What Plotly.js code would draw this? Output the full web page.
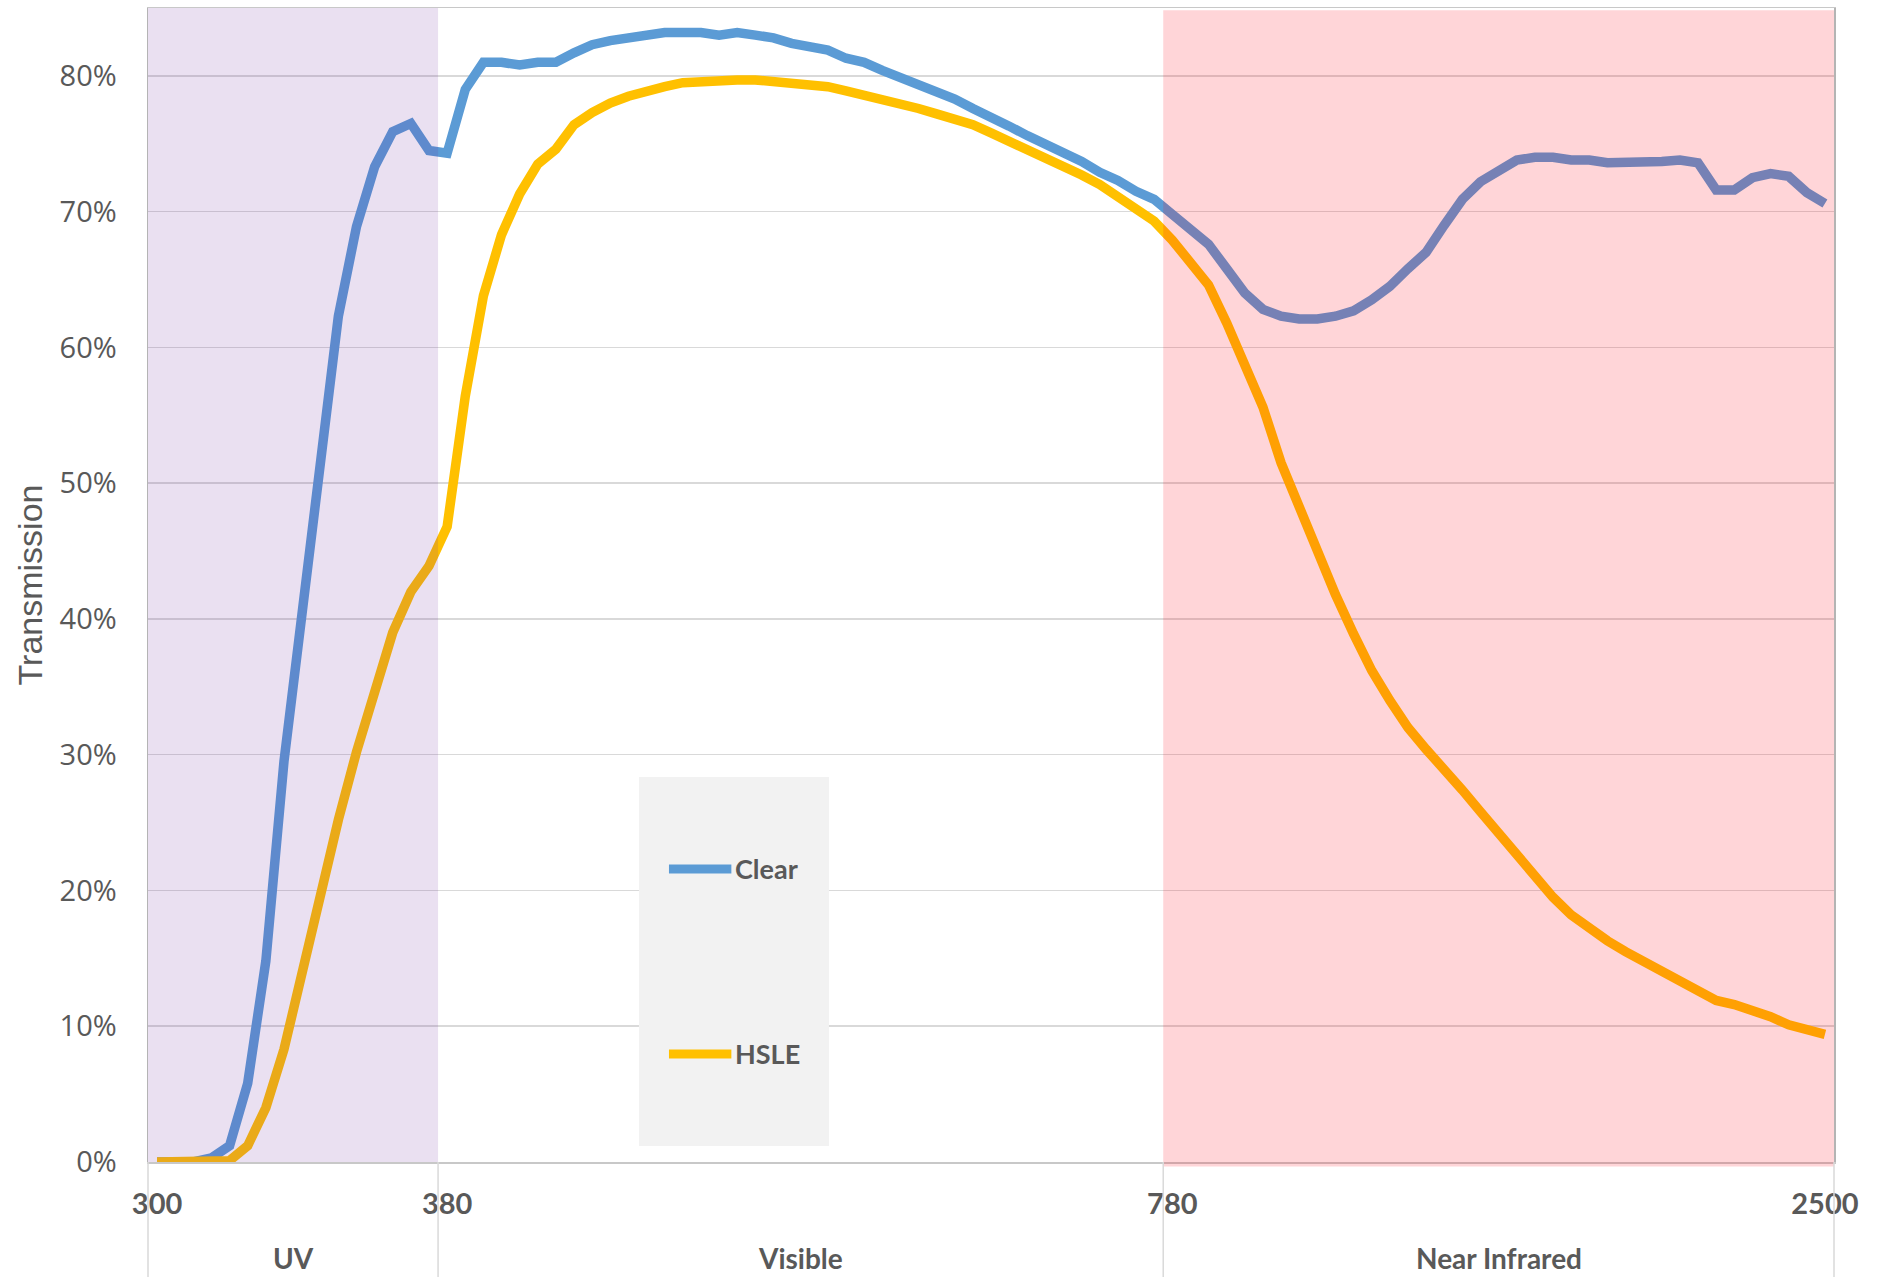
<!DOCTYPE html>
<html>
<head>
<meta charset="utf-8">
<script src="https://cdn.plot.ly/plotly-3.0.1.min.js"></script>
<style>
  html, body { margin: 0; padding: 0; background: #ffffff; }
  #chart { width: 1879px; height: 1277px; }
</style>
</head>
<body>
<div id="chart"></div>
<script>
// Spectral bands shown along the category axis, and how many samples each holds
const groupNames = ['UV', 'Visible', 'Near Infrared'];
const groupSizes = [16, 40, 37];

// Wavelength labels (nm) printed under the axis
const tickLabels = ['300', '380', '780', '2500'];

const seriesNames = ['Clear', 'HSLE'];
const seriesColors = ['#5B9BD5', '#FFC000'];

// Transmission (%) of the clear glass, per band
const clearUV = [0, 0, 0, 0.3, 1.2, 5.8, 14.8, 29.5, 40.5, 52.5, 62.3, 68.9, 73.3, 75.9, 76.5, 74.5];
const clearVis = [74.3, 79.0, 81.0, 81.0, 80.8, 81.0, 81.0, 81.7, 82.3, 82.6,
                  82.8, 83.0, 83.2, 83.2, 83.2, 83.0, 83.2, 83.0, 82.8, 82.4,
                  82.1, 81.9, 81.3, 81.0, 80.4, 79.9, 79.4, 78.8, 78.3, 77.6,
                  77.0, 76.3, 75.6, 75.0, 74.4, 73.7, 72.9, 72.3, 71.5, 70.9];
const clearNIR = [69.8, 68.6, 67.6, 65.8, 64.0, 62.8, 62.3, 62.1, 62.1, 62.3,
                  62.7, 63.5, 64.5, 65.8, 67.0, 69.0, 70.9, 72.2, 73.1, 73.8,
                  74.0, 74.0, 73.8, 73.8, 73.6, 73.6, 73.7, 73.7, 73.8, 73.6,
                  71.6, 71.6, 72.5, 72.8, 72.6, 71.4, 70.6];

// Transmission (%) of the HSLE glass, per band
const hsleUV = [0, 0, 0, 0, 0.1, 1.2, 4.0, 8.3, 14.0, 20.0, 25.2, 30.2, 34.7, 39.0, 42.0, 43.9];
const hsleVis = [46.8, 56.4, 63.8, 68.3, 71.3, 73.5, 74.6, 76.4, 77.3, 78.0,
                 78.5, 78.9, 79.2, 79.5, 79.6, 79.7, 79.7, 79.7, 79.6, 79.5,
                 79.4, 79.2, 78.9, 78.6, 78.3, 78.0, 77.6, 77.2, 76.8, 76.4,
                 75.8, 75.2, 74.6, 74.0, 73.4, 72.7, 72.0, 71.1, 70.2, 69.3];
const hsleNIR = [67.9, 66.2, 64.6, 61.8, 58.7, 55.6, 51.5, 48.2, 45.0, 41.8,
                 38.9, 36.2, 34.0, 32.0, 30.4, 29.0, 27.4, 25.8, 24.2, 22.6,
                 21.0, 19.5, 18.2, 17.2, 16.3, 15.5, 14.8, 14.0, 13.3, 12.7,
                 11.9, 11.6, 11.2, 10.7, 10.1, 9.7, 9.4];

const yTicks = [0, 10, 20, 30, 40, 50, 60, 70, 80];

// ---- derived values ----
const clear = clearUV.concat(clearVis, clearNIR);
const hsle = hsleUV.concat(hsleVis, hsleNIR);
const total = groupSizes.reduce((a, b) => a + b, 0);
const idx = clear.map((_, i) => i);

const groupStart = [];
groupSizes.reduce((acc, n) => { groupStart.push(acc); return acc + n; }, 0);
const tickPos = groupStart.concat([total - 1]);

const grayText = '#595959';
const labelFont = 'Lato, Roboto, sans-serif';

const traces = [clear, hsle].map((ys, k) => ({
  type: 'scatter',
  mode: 'lines',
  name: seriesNames[k],
  x: idx,
  y: ys,
  line: { color: seriesColors[k], width: 9.5 },
  hoverinfo: 'name+y',
  showlegend: false
}));

// band overlays (translucent, drawn over the curves)
const uvEnd = groupStart[1] - 0.5;
const nirStart = groupStart[2] - 0.5;
const shapes = [
  { type: 'rect', layer: 'above', xref: 'x', yref: 'paper',
    x0: -0.5, x1: uvEnd, y0: 0, y1: 1,
    fillcolor: 'rgba(112,48,160,0.15)', line: { width: 0 } },
  { type: 'rect', layer: 'above', xref: 'x', yref: 'paper',
    x0: nirStart, x1: total - 0.5, y0: -0.004, y1: 0.998,
    fillcolor: 'rgba(255,0,20,0.165)', line: { width: 0 } }
];

// separators between the band labels below the axis
const sepPaper = [0].concat(groupSizes.map((_, i) =>
  groupSizes.slice(0, i + 1).reduce((a, b) => a + b, 0) / total));
sepPaper.forEach(p => shapes.push({
  type: 'line', xref: 'paper', yref: 'paper',
  x0: p, x1: p, y0: 0, y1: -0.12,
  line: { color: '#d9d9d9', width: 1.5 }
}));

// legend panel
const legBox = { x0: 0.2912, x1: 0.4039, y0: 0.0139, y1: 0.3336 };
const legRows = [0.2539, 0.0936];
shapes.push({ type: 'rect', layer: 'above', xref: 'paper', yref: 'paper',
  x0: legBox.x0, x1: legBox.x1, y0: legBox.y0, y1: legBox.y1,
  fillcolor: '#f2f2f2', line: { width: 0 } });
legRows.forEach((yy, k) => shapes.push({
  type: 'line', layer: 'above', xref: 'paper', yref: 'paper',
  x0: 0.3090, x1: 0.3460, y0: yy, y1: yy,
  line: { color: seriesColors[k], width: 9 }
}));

const annotations = [];
legRows.forEach((yy, k) => annotations.push({
  xref: 'paper', yref: 'paper', x: 0.3468, y: yy,
  xanchor: 'left', yanchor: 'middle', showarrow: false,
  text: seriesNames[k],
  font: { family: labelFont, size: 27, color: grayText, weight: 'bold' }
}));
groupNames.forEach((g, i) => annotations.push({
  xref: 'x', yref: 'paper',
  x: groupStart[i] + groupSizes[i] / 2 - 0.5, y: -0.083,
  xanchor: 'center', yanchor: 'middle', showarrow: false,
  text: g,
  font: { family: labelFont, size: 28, color: grayText, weight: 'bold' }
}));

const layout = {
  width: 1879,
  height: 1277,
  margin: { l: 148, r: 45, t: 8, b: 115 },
  paper_bgcolor: '#ffffff',
  plot_bgcolor: '#ffffff',
  showlegend: false,
  xaxis: {
    range: [-0.5, total - 0.5],
    tickmode: 'array',
    tickvals: tickPos,
    ticktext: tickLabels,
    ticks: '',
    ticklabelstandoff: 16,
    showgrid: false,
    zeroline: false,
    showline: true,
    linecolor: '#c8c8c8',
    linewidth: 1.5,
    mirror: true,
    tickfont: { family: labelFont, size: 29, color: grayText, weight: 'bold' },
    fixedrange: true
  },
  yaxis: {
    range: [0, 85],
    tickmode: 'array',
    tickvals: yTicks,
    ticktext: yTicks.map(v => v + '%'),
    ticks: '',
    ticklabelstandoff: 24,
    showgrid: true,
    gridcolor: '#d9d9d9',
    gridwidth: 1.5,
    zeroline: false,
    showline: true,
    linecolor: '#b4b4b4',
    linewidth: 1.5,
    mirror: true,
    tickfont: { family: 'Open Sans, Noto Sans, sans-serif', size: 29, color: grayText },
    title: {
      text: 'Transmission',
      standoff: 6,
      font: { family: 'Liberation Sans, Arial, sans-serif', size: 34, color: grayText }
    },
    fixedrange: true
  },
  shapes: shapes,
  annotations: annotations
};

Plotly.newPlot('chart', traces, layout, { displayModeBar: false, staticPlot: true });
</script>
</body>
</html>
